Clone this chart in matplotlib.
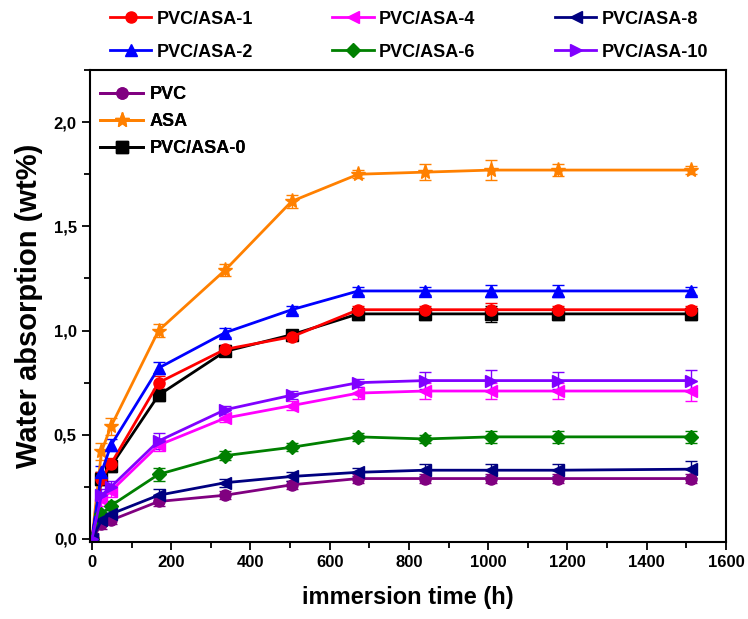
import numpy as np
import matplotlib.pyplot as plt
from matplotlib.lines import Line2D
from matplotlib.ticker import MultipleLocator, FuncFormatter

plt.rcParams['font.family'] = ['Liberation Sans', 'DejaVu Sans']
plt.rcParams['font.weight'] = 'bold'

hours = [0, 24, 48, 168, 336, 504, 672, 840, 1008, 1176, 1512]

pvc      = [0, 0.07, 0.09, 0.18, 0.21, 0.26, 0.29, 0.29, 0.29, 0.29, 0.29]
asa      = [0, 0.42, 0.54, 1.00, 1.29, 1.62, 1.75, 1.76, 1.77, 1.77, 1.77]
asa0     = [0, 0.29, 0.35, 0.69, 0.90, 0.98, 1.08, 1.08, 1.08, 1.08, 1.08]
asa1     = [0, 0.29, 0.36, 0.75, 0.91, 0.97, 1.10, 1.10, 1.10, 1.10, 1.10]
asa2     = [0, 0.32, 0.45, 0.82, 0.99, 1.10, 1.19, 1.19, 1.19, 1.19, 1.19]
asa4     = [0, 0.19, 0.23, 0.45, 0.58, 0.64, 0.70, 0.71, 0.71, 0.71, 0.71]
asa6     = [0, 0.12, 0.16, 0.31, 0.40, 0.44, 0.49, 0.48, 0.49, 0.49, 0.49]
asa8     = [0, 0.09, 0.12, 0.21, 0.27, 0.30, 0.32, 0.33, 0.33, 0.33, 0.335]
asa10    = [0, 0.21, 0.25, 0.47, 0.62, 0.69, 0.75, 0.76, 0.76, 0.76, 0.76]

err_pvc  = [0, 0.02, 0.02, 0.02, 0.02, 0.02, 0.02, 0.02, 0.02, 0.02, 0.02]
err_asa  = [0, 0.04, 0.04, 0.03, 0.03, 0.03, 0.02, 0.04, 0.05, 0.03, 0.02]
err_asa0 = [0, 0.03, 0.03, 0.03, 0.02, 0.02, 0.03, 0.03, 0.04, 0.03, 0.03]
err_asa1 = [0, 0.03, 0.03, 0.03, 0.02, 0.02, 0.02, 0.02, 0.03, 0.02, 0.02]
err_asa2 = [0, 0.03, 0.03, 0.03, 0.02, 0.02, 0.02, 0.02, 0.03, 0.03, 0.02]
err_asa4 = [0, 0.03, 0.03, 0.03, 0.02, 0.02, 0.03, 0.04, 0.04, 0.04, 0.05]
err_asa6 = [0, 0.02, 0.02, 0.03, 0.02, 0.02, 0.02, 0.02, 0.03, 0.03, 0.03]
err_asa8 = [0, 0.02, 0.02, 0.03, 0.02, 0.02, 0.02, 0.03, 0.03, 0.03, 0.04]
err_asa10 = [0, 0.03, 0.03, 0.04, 0.02, 0.02, 0.02, 0.04, 0.05, 0.04, 0.05]

series = [
    ('PVC', pvc, err_pvc, '#800080', 'o'),
    ('ASA', asa, err_asa, '#ff8000', '*'),
    ('PVC/ASA-0', asa0, err_asa0, '#000000', 's'),
    ('PVC/ASA-1', asa1, err_asa1, '#ff0000', 'o'),
    ('PVC/ASA-2', asa2, err_asa2, '#0000ff', '^'),
    ('PVC/ASA-4', asa4, err_asa4, '#ff00ff', '<'),
    ('PVC/ASA-6', asa6, err_asa6, '#008000', 'D'),
    ('PVC/ASA-8', asa8, err_asa8, '#000080', '<'),
    ('PVC/ASA-10', asa10, err_asa10, '#8000ff', '>'),
]

fig = plt.figure(figsize=(7.48, 6.19), dpi=100)
ax = fig.add_axes([0.1203, 0.1252, 0.8503, 0.7617])

handles = {}
for name, y, e, c, m in series:
    ms = {'*': 11, 'D': 7}.get(m, 8)
    ax.errorbar(hours, y, yerr=e, color=c, marker=m, markersize=ms,
                lw=2, capsize=4, elinewidth=1, capthick=1)
    # legend proxy without error bars
    handles[name] = Line2D([], [], color=c, marker=m, markersize=ms, lw=2)

ax.set_xlim(-5, 1600)
ax.set_ylim(-0.012, 2.25)
ax.xaxis.set_major_locator(MultipleLocator(200))
ax.xaxis.set_minor_locator(MultipleLocator(100))
ax.yaxis.set_major_locator(MultipleLocator(0.5))
ax.yaxis.set_minor_locator(MultipleLocator(0.25))
ax.yaxis.set_major_formatter(FuncFormatter(lambda v, p: f'{v:.1f}'.replace('.', ',')))
ax.tick_params(which='major', direction='out', length=6, width=1.3, labelsize=12)
ax.tick_params(which='minor', direction='out', length=4, width=1.3)
for s in ax.spines.values():
    s.set_linewidth(1.5)

ax.set_xlabel('immersion time (h)', fontsize=17, fontweight='bold', labelpad=12)
ax.set_ylabel('Water absorption (wt%)', fontsize=21, fontweight='bold', labelpad=8)

inner = ['PVC', 'ASA', 'PVC/ASA-0']
leg1 = ax.legend([handles[n] for n in inner], inner, loc='upper left', frameon=False,
                 fontsize=13, handlelength=2.4, handletextpad=0.33, labelspacing=0.55,
                 borderpad=0, borderaxespad=0, bbox_to_anchor=(0.0157, 0.966))
ax.add_artist(leg1)

top = ['PVC/ASA-1', 'PVC/ASA-2', 'PVC/ASA-4', 'PVC/ASA-6', 'PVC/ASA-8', 'PVC/ASA-10']
fig.legend([handles[n] for n in top], top, ncol=3, frameon=False, fontsize=13,
           loc='upper left', bbox_to_anchor=(0.147, 0.983), handlelength=2.3,
           handletextpad=0.28, columnspacing=4.4, labelspacing=0.9,
           borderpad=0, borderaxespad=0)

fig.savefig('out.png', dpi=100)
